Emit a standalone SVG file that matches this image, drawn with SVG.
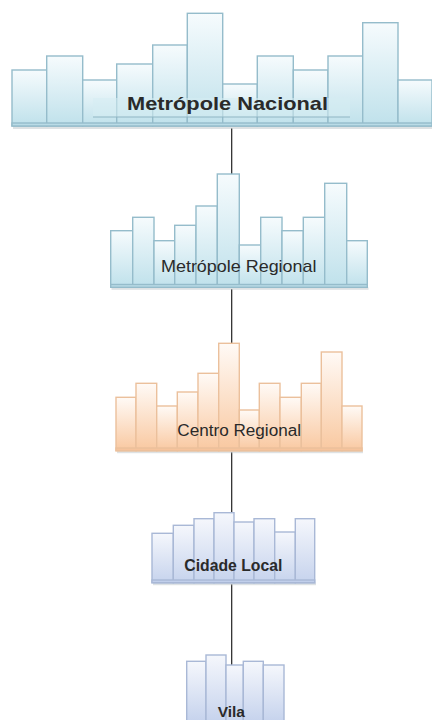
<svg xmlns="http://www.w3.org/2000/svg" width="432" height="720" viewBox="0 0 432 720">
<defs>
<linearGradient id="gb" x1="0" y1="0" x2="0" y2="1"><stop offset="0" stop-color="#f6fbfd"/><stop offset="1" stop-color="#bfe1eb"/></linearGradient>
<linearGradient id="go" x1="0" y1="0" x2="0" y2="1"><stop offset="0" stop-color="#fffaf6"/><stop offset="1" stop-color="#f9c8a0"/></linearGradient>
<linearGradient id="gl" x1="0" y1="0" x2="0" y2="1"><stop offset="0" stop-color="#f5f7fc"/><stop offset="1" stop-color="#c6d3ed"/></linearGradient>
</defs>
<style>
.b rect{fill:url(#gb);stroke:#95bccb;stroke-width:1.4}
.o rect{fill:url(#go);stroke:#ebc09c;stroke-width:1.4}
.l rect{fill:url(#gl);stroke:#a9b8d6;stroke-width:1.4}
.b rect.base{fill:#b9dbe6;stroke:#95bccb}
.o rect.base{fill:#f6c39c;stroke:#ebc09c}
.l rect.base{fill:#c1cfeb;stroke:#a9b8d6}
rect.sh{fill:#c8ced2;stroke:none;opacity:0.6}
.t{font-family:"Liberation Sans",Arial,sans-serif;fill:#2a2a2a}
.c line{stroke:#222;stroke-width:1.2}
</style>
<g class="c" id="connectors">
<line x1="231.7" y1="128" x2="231.7" y2="174"/>
<line x1="231.7" y1="289" x2="231.7" y2="343"/>
<line x1="231.7" y1="452" x2="231.7" y2="512.7"/>
<line x1="231.7" y1="584" x2="231.7" y2="666"/>
</g>
<g id="n1" class="b">
<rect class="sh" x="13" y="126" width="420" height="3"/>
<rect x="12" y="70" width="34.7" height="56"/>
<rect x="46.7" y="56" width="36" height="70"/>
<rect x="82.7" y="80" width="34" height="46"/>
<rect x="116.7" y="64" width="36" height="62"/>
<rect x="152.7" y="45" width="34.6" height="81"/>
<rect x="187.3" y="13.3" width="35.4" height="112.7"/>
<rect x="222.7" y="84" width="34.6" height="42"/>
<rect x="257.3" y="56" width="36" height="70"/>
<rect x="293.3" y="70" width="34.7" height="56"/>
<rect x="328" y="56" width="34.7" height="70"/>
<rect x="362.7" y="22.7" width="35.3" height="103.3"/>
<rect x="398" y="80" width="34" height="46"/>
<rect class="base" x="12" y="123" width="420" height="3"/>
<rect x="93" y="98" width="257" height="19" style="fill:#d6ecf3;fill-opacity:0.55;stroke:none"/>
<line x1="93" y1="117" x2="350" y2="117" stroke="#8fb6c4" stroke-width="1.2"/>
<text class="t" x="127" y="110" font-size="18.5" font-weight="bold" textLength="201" lengthAdjust="spacingAndGlyphs" fill="#111">Metrópole Nacional</text>
</g>
<g id="n2" class="b">
<rect class="sh" x="111.5" y="287.3" width="257" height="2.5"/>
<rect x="110.7" y="230.7" width="22" height="56.6"/>
<rect x="132.7" y="217.3" width="21.3" height="70"/>
<rect x="154" y="240.7" width="20.7" height="46.6"/>
<rect x="174.7" y="225.3" width="21.3" height="62"/>
<rect x="196" y="206" width="21.3" height="81.3"/>
<rect x="217.3" y="174" width="22" height="113.3"/>
<rect x="239.3" y="245" width="21.4" height="42.3"/>
<rect x="260.7" y="217.3" width="21.3" height="70"/>
<rect x="282" y="230.7" width="21.3" height="56.6"/>
<rect x="303.3" y="217.3" width="21.4" height="70"/>
<rect x="324.7" y="183.3" width="22" height="104"/>
<rect x="346.7" y="240.7" width="20.6" height="46.6"/>
<rect class="base" x="110.7" y="284.5" width="256.6" height="2.8"/>
<text class="t" x="161" y="271.7" font-size="17" textLength="155.5" lengthAdjust="spacingAndGlyphs">Metrópole Regional</text>
</g>
<g id="n3" class="o">
<rect class="sh" x="117" y="450.7" width="246" height="2.5"/>
<rect x="116" y="397.3" width="20" height="53.4"/>
<rect x="136" y="383.3" width="20.7" height="67.4"/>
<rect x="156.7" y="406" width="20.6" height="44.7"/>
<rect x="177.3" y="392" width="20.7" height="58.7"/>
<rect x="198" y="373.3" width="20.7" height="77.4"/>
<rect x="218.7" y="343.3" width="20.6" height="107.4"/>
<rect x="239.3" y="410" width="20" height="40.7"/>
<rect x="259.3" y="383.3" width="20.7" height="67.4"/>
<rect x="280" y="397.3" width="21.3" height="53.4"/>
<rect x="301.3" y="383.3" width="20" height="67.4"/>
<rect x="321.3" y="352" width="20.7" height="98.7"/>
<rect x="342" y="406" width="20" height="44.7"/>
<rect class="base" x="116" y="448" width="246" height="2.7"/>
<text class="t" x="177.3" y="436" font-size="16" textLength="123.7" lengthAdjust="spacingAndGlyphs">Centro Regional</text>
</g>
<g id="n4" class="l">
<rect class="sh" x="153" y="582.7" width="163" height="2.5"/>
<rect x="152" y="533.3" width="21.3" height="49.4"/>
<rect x="173.3" y="525.3" width="20.7" height="57.4"/>
<rect x="194" y="518.7" width="20" height="64"/>
<rect x="214" y="512.7" width="20" height="70"/>
<rect x="234" y="522" width="20" height="60.7"/>
<rect x="254" y="518.7" width="20.7" height="64"/>
<rect x="274.7" y="532" width="20.6" height="50.7"/>
<rect x="295.3" y="518.7" width="19.4" height="64"/>
<rect class="base" x="152" y="580" width="162.7" height="2.7"/>
<text class="t" x="184.3" y="570.7" font-size="16" font-weight="bold" textLength="98" lengthAdjust="spacingAndGlyphs" fill="#2e2e36">Cidade Local</text>
</g>
<g id="n5" class="l">
<rect x="186.7" y="661.3" width="19.3" height="60"/>
<rect x="206" y="655" width="20" height="66.3"/>
<rect x="226" y="665" width="17.3" height="56.3"/>
<rect x="243.3" y="661.3" width="20" height="60"/>
<rect x="263.3" y="665" width="20.7" height="56.3"/>
<text class="t" x="217.7" y="716.7" font-size="15" font-weight="bold" textLength="27.3" lengthAdjust="spacingAndGlyphs" fill="#44444e">Vila</text>
</g>
</svg>
